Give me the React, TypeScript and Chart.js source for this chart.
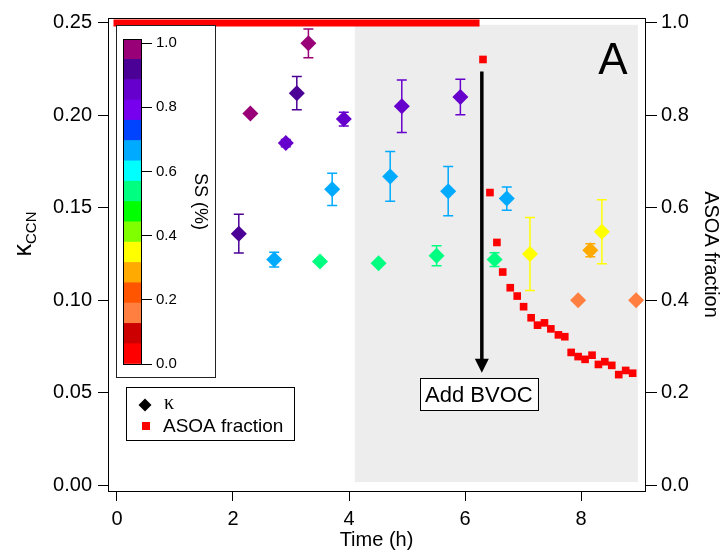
import React, { useEffect, useRef } from "react";
import { Chart, registerables } from "chart.js";

Chart.register(...registerables);

const FONT = "'Liberation Sans', Arial, Helvetica, sans-serif";

// ---- colour scale for supersaturation SS (%) ----
const ssColors = [
  "#FF0000", "#CC0000", "#FF7F40", "#FF5500", "#FFAA00", "#FFFF00", "#80FF00", "#00FF00",
  "#00FF80", "#00FFFF", "#00AAFF", "#0044FF", "#7700EE", "#6600CC", "#4B0096", "#990077",
];
const ssScaleMax = 1.0125;
const ssTicks = [0, 0.2, 0.4, 0.6, 0.8, 1.0];

// ---- kappa (CCN) measurements ----
const kappaTime = [2.10, 2.30, 2.71, 2.91, 3.10, 3.30, 3.50, 3.71, 3.91, 4.51, 4.71, 4.91, 5.51, 5.71, 5.92, 6.51, 6.72, 7.12, 7.95, 8.16, 8.36, 8.95];
const kappaValue = [0.136, 0.201, 0.122, 0.185, 0.212, 0.239, 0.121, 0.160, 0.198, 0.120, 0.167, 0.205, 0.124, 0.159, 0.210, 0.122, 0.155, 0.125, 0.100, 0.127, 0.137, 0.100];
const kappaErr = [0.0105, 0, 0.004, 0.002, 0.009, 0.0078, 0.0012, 0.0087, 0.0037, 0.001, 0.0134, 0.0142, 0.0054, 0.0133, 0.0096, 0.0037, 0.0063, 0.0197, 0, 0.0035, 0.0173, 0];
const kappaSS = [0.9, 1.0, 0.65, 0.85, 0.9, 1.0, 0.55, 0.65, 0.85, 0.55, 0.65, 0.85, 0.55, 0.65, 0.85, 0.55, 0.65, 0.35, 0.15, 0.28, 0.35, 0.15];

// ---- ASOA fraction ----
const asoaPreTime = [0, 6.19];
const asoaPreFrac = [1.0, 1.0];
const asoaTime = [6.31, 6.43, 6.55, 6.65, 6.78, 6.90, 7.01, 7.14, 7.25, 7.37, 7.48, 7.61, 7.72, 7.83, 7.95, 8.07, 8.19, 8.30, 8.41, 8.53, 8.65, 8.77, 8.89];
const asoaFrac = [0.921, 0.633, 0.525, 0.461, 0.427, 0.409, 0.386, 0.362, 0.346, 0.351, 0.338, 0.325, 0.321, 0.287, 0.278, 0.272, 0.281, 0.261, 0.267, 0.259, 0.239, 0.248, 0.242];

// ---- axes ----
const xTicks = [0, 2, 4, 6, 8];
const yTicks = [0, 0.05, 0.1, 0.15, 0.2, 0.25];
const y2Ticks = [0, 0.2, 0.4, 0.6, 0.8, 1.0];
const xRange = [-0.155, 9.103];
const yRange = [-0.003226, 0.252688];
const y2Range = [-0.0129, 1.01075];

// ---- annotations ----
const shadeTime = [4.1, 8.98];
const shadeKappa = [0.0016, 0.249];
const bvocTime = 6.29;
const bvocKappa = [0.2237, 0.0608];
const bvocLabelKappa = 0.049;
const bvocLabel = "Add BVOC";
const panelLabel = "A";

function ssColor(ss: number) {
  const idx = Math.min(ssColors.length - 1, Math.floor((ss / ssScaleMax) * ssColors.length));
  return ssColors[idx];
}

const mainPlugin = {
  id: "mainDecor",
  beforeDatasetsDraw(chart: any) {
    const { ctx, scales } = chart;
    const x = scales.x, y = scales.y;
    ctx.save();
    // grey region
    const x0 = x.getPixelForValue(shadeTime[0]);
    const x1 = x.getPixelForValue(shadeTime[1]);
    const y0 = y.getPixelForValue(shadeKappa[1]);
    const y1 = y.getPixelForValue(shadeKappa[0]);
    ctx.fillStyle = "#EDEDED";
    ctx.fillRect(x0, y0, x1 - x0, y1 - y0);
    // error bars
    kappaTime.forEach((t, i) => {
      const e = kappaErr[i];
      if (!e) return;
      const px = x.getPixelForValue(t);
      const top = y.getPixelForValue(kappaValue[i] + e);
      const bot = y.getPixelForValue(kappaValue[i] - e);
      ctx.strokeStyle = ssColor(kappaSS[i]);
      ctx.lineWidth = 1.5;
      ctx.beginPath();
      ctx.moveTo(px, top);
      ctx.lineTo(px, bot);
      ctx.moveTo(px - 5, top);
      ctx.lineTo(px + 5, top);
      ctx.moveTo(px - 5, bot);
      ctx.lineTo(px + 5, bot);
      ctx.stroke();
    });
    ctx.restore();
  },
  afterDraw(chart: any) {
    const { ctx, scales, chartArea } = chart;
    const x = scales.x, y = scales.y;
    ctx.save();
    // frame
    ctx.strokeStyle = "#000";
    ctx.lineWidth = 1;
    ctx.strokeRect(Math.round(chartArea.left) + 0.5, Math.round(chartArea.top) + 0.5,
      Math.round(chartArea.right - chartArea.left), Math.round(chartArea.bottom - chartArea.top));

    // arrow
    const ax = x.getPixelForValue(bvocTime);
    const ay0 = y.getPixelForValue(bvocKappa[0]);
    const ay1 = y.getPixelForValue(bvocKappa[1]);
    ctx.strokeStyle = "#000";
    ctx.fillStyle = "#000";
    ctx.lineWidth = 3.5;
    ctx.beginPath();
    ctx.moveTo(ax, ay0);
    ctx.lineTo(ax, ay1 - 12);
    ctx.stroke();
    ctx.beginPath();
    ctx.moveTo(ax - 7, ay1 - 14);
    ctx.lineTo(ax + 7, ay1 - 14);
    ctx.lineTo(ax, ay1);
    ctx.closePath();
    ctx.fill();

    // Add BVOC box
    ctx.font = `22px ${FONT}`;
    const tw = ctx.measureText(bvocLabel).width;
    const ly = y.getPixelForValue(bvocLabelKappa);
    const lx = x.getPixelForValue(bvocTime) - 3;
    ctx.fillStyle = "#fff";
    ctx.fillRect(lx - tw / 2 - 5, ly - 16, tw + 10, 32);
    ctx.lineWidth = 1;
    ctx.strokeStyle = "#000";
    ctx.strokeRect(Math.round(lx - tw / 2 - 5) + 0.5, Math.round(ly - 16) + 0.5, Math.round(tw + 10), 32);
    ctx.fillStyle = "#000";
    ctx.textAlign = "center";
    ctx.textBaseline = "middle";
    ctx.fillText(bvocLabel, lx, ly + 1);

    // Panel label
    ctx.font = `44px ${FONT}`;
    ctx.fillText(panelLabel, chartArea.right - 32, chartArea.top + 44);

    // legend box
    const bx = chartArea.left + 18, by = chartArea.top + 369, bw = 168, bh = 53;
    ctx.fillStyle = "#fff";
    ctx.fillRect(bx, by, bw, bh);
    ctx.strokeStyle = "#000";
    ctx.lineWidth = 1;
    ctx.strokeRect(bx + 0.5, by + 0.5, bw, bh);
    // diamond
    const dx = bx + 19, dy = by + 18;
    ctx.fillStyle = "#000";
    ctx.beginPath();
    ctx.moveTo(dx - 6.5, dy);
    ctx.lineTo(dx, dy - 6.5);
    ctx.lineTo(dx + 6.5, dy);
    ctx.lineTo(dx, dy + 6.5);
    ctx.closePath();
    ctx.fill();
    ctx.textAlign = "left";
    ctx.textBaseline = "middle";
    ctx.font = `20px 'Liberation Serif', 'DejaVu Serif', serif`;
    ctx.fillText("κ", bx + 38, dy - 1);
    // square
    ctx.fillStyle = "#FF0000";
    ctx.fillRect(bx + 16, by + 35, 8, 8);
    ctx.fillStyle = "#000";
    ctx.font = `19px ${FONT}`;
    ctx.fillText("ASOA fraction", bx + 37, by + 40);

    // left axis title kappa_CCN
    ctx.translate(31, 234);
    ctx.rotate(-Math.PI / 2);
    ctx.textBaseline = "alphabetic";
    ctx.font = `25px ${FONT}`;
    const w1 = ctx.measureText("κ").width;
    ctx.font = `15px ${FONT}`;
    const w2 = ctx.measureText("CCN").width;
    const sx = -(w1 + w2) / 2;
    ctx.font = `25px ${FONT}`;
    ctx.fillText("κ", sx, 0);
    ctx.font = `15px ${FONT}`;
    ctx.fillText("CCN", sx + w1, 5);
    ctx.restore();
  },
};

const colorbarPlugin = {
  id: "cbFrame",
  afterDatasetsDraw(chart: any) {
    const { ctx, chartArea } = chart;
    ctx.save();
    ctx.strokeStyle = "#000";
    ctx.lineWidth = 1;
    ctx.strokeRect(Math.round(chartArea.left) + 0.5, Math.round(chartArea.top) + 0.5,
      Math.round(chartArea.right - chartArea.left), Math.round(chartArea.bottom - chartArea.top));
    ctx.restore();
  },
};

function ColorBar() {
  const ref = useRef<HTMLCanvasElement>(null);
  useEffect(() => {
    const chart = new Chart(ref.current!, {
      type: "bar",
      data: {
        labels: ["SS"],
        datasets: ssColors.map((c) => ({
          data: [ssScaleMax / ssColors.length],
          backgroundColor: c,
          borderWidth: 0,
          barPercentage: 1,
          categoryPercentage: 1,
        })),
      },
      options: {
        responsive: false,
        devicePixelRatio: 1,
        animation: false,
        events: [],
        layout: { padding: { left: 6, top: 11, right: 0, bottom: 11 } },
        plugins: { legend: { display: false }, tooltip: { enabled: false } },
        scales: {
          x: { display: false, stacked: true },
          y: {
            position: "right",
            stacked: true,
            min: 0,
            max: ssScaleMax,
            afterFit: (s: any) => { s.width = 74; },
            afterBuildTicks: (s: any) => { s.ticks = ssTicks.map((v) => ({ value: v })); },
            ticks: {
              color: "#000",
              font: { family: FONT, size: 15 },
              padding: 4,
              callback: (v: any) => Number(v).toFixed(1),
            },
            grid: { drawOnChartArea: false, drawTicks: true, tickLength: 11, tickColor: "#000" },
            border: { display: true, color: "#000" },
            title: {
              display: true,
              text: "SS (%)",
              color: "#000",
              font: { family: FONT, size: 18 },
              padding: { top: 4, bottom: 0 },
            },
          },
        },
      } as any,
      plugins: [colorbarPlugin],
    });
    return () => chart.destroy();
  }, []);
  return (
    <div
      style={{
        position: "absolute",
        left: 116,
        top: 25,
        width: 100,
        height: 353,
        border: "1px solid #222",
        boxSizing: "border-box",
        background: "#fff",
      }}
    >
      <canvas ref={ref} width={98} height={351} style={{ display: "block" }} />
    </div>
  );
}

function MainChart() {
  const ref = useRef<HTMLCanvasElement>(null);
  useEffect(() => {
    const kColors = kappaSS.map(ssColor);
    const chart = new Chart(ref.current!, {
      type: "scatter",
      data: {
        datasets: [
          {
            label: "κ",
            data: kappaTime.map((t, i) => ({ x: t, y: kappaValue[i] })),
            yAxisID: "y",
            pointStyle: "rectRot",
            pointRadius: 8,
            pointBackgroundColor: kColors,
            pointBorderColor: kColors,
            pointBorderWidth: 0,
            showLine: false,
            clip: false,
          },
          {
            label: "ASOA fraction",
            data: asoaTime.map((t, i) => ({ x: t, y: asoaFrac[i] })),
            yAxisID: "y2",
            pointStyle: "rect",
            pointRadius: 5.4,
            pointBackgroundColor: "#FF0000",
            pointBorderWidth: 0,
            showLine: false,
            clip: false,
          },
          {
            label: "ASOA fraction (before)",
            data: asoaPreTime.map((t, i) => ({ x: t, y: asoaPreFrac[i] })),
            yAxisID: "y2",
            showLine: true,
            borderColor: "#FF0000",
            borderWidth: 7,
            borderCapStyle: "square",
            pointRadius: 0,
            clip: false,
          },
        ],
      },
      options: {
        responsive: false,
        devicePixelRatio: 1,
        animation: false,
        events: [],
        layout: { padding: { top: 15, left: 0, right: 0, bottom: 0 } },
        plugins: { legend: { display: false }, tooltip: { enabled: false } },
        scales: {
          x: {
            type: "linear",
            position: "bottom",
            min: xRange[0],
            max: xRange[1],
            afterFit: (s: any) => { s.height = 61; },
            afterBuildTicks: (s: any) => { s.ticks = xTicks.map((v) => ({ value: v })); },
            ticks: {
              color: "#000",
              font: { family: FONT, size: 20 },
              padding: 6,
              maxRotation: 0,
              autoSkip: false,
              callback: (v: any) => String(v),
            },
            grid: { drawOnChartArea: false, drawTicks: true, tickLength: 10, tickColor: "#000" },
            border: { display: true, color: "#000" },
            title: {
              display: true,
              text: "Time (h)",
              color: "#000",
              font: { family: FONT, size: 20 },
              padding: { top: 0, bottom: 0 },
            },
          },
          y: {
            type: "linear",
            position: "left",
            min: yRange[0],
            max: yRange[1],
            afterFit: (s: any) => { s.width = 108; },
            afterBuildTicks: (s: any) => { s.ticks = yTicks.map((v) => ({ value: v })); },
            ticks: {
              color: "#000",
              font: { family: FONT, size: 20 },
              padding: 6,
              callback: (v: any) => Number(v).toFixed(2),
            },
            grid: { drawOnChartArea: false, drawTicks: true, tickLength: 10, tickColor: "#000" },
            border: { display: true, color: "#000" },
          },
          y2: {
            type: "linear",
            position: "right",
            min: y2Range[0],
            max: y2Range[1],
            afterFit: (s: any) => { s.width = 82; },
            afterBuildTicks: (s: any) => { s.ticks = y2Ticks.map((v) => ({ value: v })); },
            ticks: {
              color: "#000",
              font: { family: FONT, size: 20 },
              padding: 4,
              callback: (v: any) => Number(v).toFixed(1),
            },
            grid: { drawOnChartArea: false, drawTicks: true, tickLength: 12, tickColor: "#000" },
            border: { display: true, color: "#000" },
            title: {
              display: true,
              text: "ASOA fraction",
              color: "#000",
              font: { family: FONT, size: 20 },
              padding: { top: 4, bottom: 0 },
            },
          },
        },
      } as any,
      plugins: [mainPlugin],
    });
    return () => chart.destroy();
  }, []);
  return <canvas ref={ref} width={727} height={552} style={{ display: "block" }} />;
}

export default function App() {
  return (
    <div
      style={{
        position: "fixed",
        left: 0,
        top: 0,
        width: 727,
        height: 552,
        background: "#fff",
        overflow: "hidden",
      }}
    >
      <MainChart />
      <ColorBar />
    </div>
  );
}
